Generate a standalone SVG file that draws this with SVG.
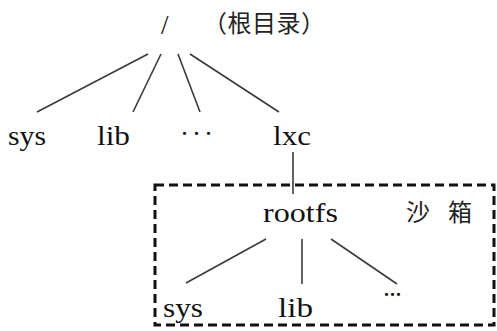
<svg xmlns="http://www.w3.org/2000/svg" width="497" height="331" viewBox="0 0 497 331">
<style>
.t{font-family:"Liberation Serif","Times New Roman",serif;font-size:27px;fill:#111}
.c{font-family:"Liberation Serif","Noto Sans CJK SC",serif;font-size:24px;fill:#222}
.e{stroke:#3a3a3a;stroke-width:1.6;fill:none}
.box{stroke:#111;stroke-width:3;fill:none;stroke-dasharray:9 5}
</style>
<rect width="497" height="331" fill="#fff"/>
<g id="connectors">
<line class="e" x1="148" y1="54" x2="37" y2="112"/>
<line class="e" x1="161" y1="54" x2="133" y2="112"/>
<line class="e" x1="178" y1="54" x2="200" y2="112"/>
<line class="e" x1="190" y1="54" x2="279" y2="112"/>
<line class="e" x1="293" y1="152" x2="293" y2="194"/>
<line class="e" x1="266" y1="239" x2="186" y2="283"/>
<line class="e" x1="302" y1="239" x2="302" y2="284"/>
<line class="e" x1="331" y1="239" x2="397" y2="284"/>
</g>
<g id="sandbox">
<rect class="box" x="155" y="185" width="339" height="140"/>
<text class="c" x="406" y="221">沙</text>
<text class="c" x="448" y="221">箱</text>
</g>
<g id="root">
<text class="t" x="161" y="34">/</text>
<text class="c" x="203" y="32" textLength="122">（根目录）</text>
</g>
<g id="sys"><text class="t" x="8" y="145" textLength="38" lengthAdjust="spacingAndGlyphs">sys</text></g>
<g id="lib"><text class="t" x="97" y="145" textLength="33" lengthAdjust="spacingAndGlyphs">lib</text></g>
<g id="dots"><text class="t" x="180" y="143" textLength="33">· · ·</text></g>
<g id="lxc"><text class="t" x="273" y="145" textLength="38" lengthAdjust="spacingAndGlyphs">lxc</text></g>
<g id="rootfs"><text class="t" x="263" y="222" textLength="75" lengthAdjust="spacingAndGlyphs">rootfs</text></g>
<g id="sys2"><text class="t" x="163" y="317" textLength="40" lengthAdjust="spacingAndGlyphs">sys</text></g>
<g id="lib2"><text class="t" x="278" y="317" textLength="35" lengthAdjust="spacingAndGlyphs">lib</text></g>
<g id="dots2"><text class="t" x="382" y="304" textLength="21">···</text></g>
</svg>
